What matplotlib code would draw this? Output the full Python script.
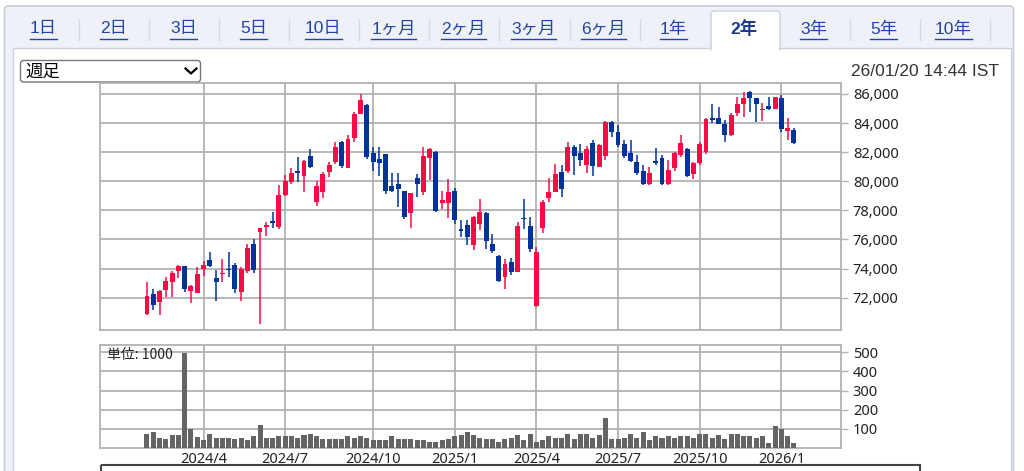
import matplotlib.pyplot as plt
from matplotlib.patches import Rectangle, FancyBboxPatch
import numpy as np
import pandas as pd

plt.rcParams['font.family'] = ['Noto Sans', 'Noto Sans CJK JP']

# weekly candles, first week starts 2024-01-29
opens = [70860, 72260, 71680, 72550, 73060, 73840, 74180, 72480, 72300, 73950,
         74590, 73330, 73630, 73970, 74250, 72420, 73840, 75670, 76540, 76880,
         77300, 76880, 79060, 79930, 80710, 80390, 81740, 78560, 79290, 80620,
         81300, 82720, 80940, 82950, 84630, 85240, 81920, 81530, 81850, 79700,
         79790, 79330, 77850, 80200, 79290, 81630, 81990, 78530, 78530, 79330,
         76700, 77000, 75620, 77040, 77850, 75670, 74890, 73400, 74480, 73790,
         77500, 76930, 71450, 76810, 78830, 79290, 80660, 80710, 82380, 81920,
         81120, 82610, 81010, 81740, 84050, 83410, 82540, 81920, 81300, 80730,
         79790, 81370, 81580, 79820, 80890, 81810, 82200, 80500, 81240, 82040,
         84330, 84330, 83920, 83180, 84670, 85310, 86160, 85700, 84900, 85200,
         84970, 85700, 83460, 83530]
highs = [73100, 72580, 72530, 73450, 73840, 74250, 74180, 72870, 74130, 74520,
         75160, 73900, 74640, 75120, 74360, 74130, 75670, 76040, 76810, 77230,
         77910, 79750, 80430, 80890, 81690, 81460, 82220, 80020, 80620, 81300,
         82680, 82770, 83180, 84740, 86000, 85310, 82380, 82380, 81850, 80590,
         80590, 79330, 79170, 80480, 82380, 82310, 82080, 79330, 80140, 79520,
         77340, 77340, 77620, 78780, 77910, 76380, 74940, 74660, 74750, 77180,
         78780, 77550, 75460, 78720, 80250, 81190, 81120, 82720, 82500, 82540,
         82450, 82840, 82540, 84170, 84150, 83870, 82840, 82840, 81810, 81120,
         81010, 82310, 81810, 81460, 82040, 83180, 82270, 81350, 82720, 84330,
         85310, 85130, 84210, 84670, 85820, 86120, 86210, 85750, 85360, 85770,
         85820, 85930, 84330, 83640]
lows = [70810, 71160, 70810, 72030, 72030, 73330, 72420, 71610, 72300, 73520,
        74130, 71770, 73100, 73450, 72300, 71770, 73680, 73680, 70200, 76260,
        76770, 76720, 78990, 79790, 79980, 79240, 80890, 78330, 78830, 80320,
        81190, 80940, 80890, 82680, 84600, 81530, 80710, 80390, 79110, 79240,
        78260, 77390, 76770, 78940, 79060, 80090, 77870, 78100, 77500, 77040,
        76200, 75620, 75280, 76650, 75350, 75050, 73100, 72600, 73560, 73740,
        76720, 75160, 71380, 76420, 78560, 79240, 78900, 80550, 80430, 81080,
        80550, 80390, 80960, 81460, 83070, 82380, 81630, 81350, 80430, 79750,
        79750, 81120, 79750, 79750, 80710, 81690, 80320, 80160, 81120, 81850,
        83980, 83920, 82680, 83110, 84510, 84440, 84740, 84100, 84170, 84900,
        84970, 83410, 82840, 82560]
closes = [72120, 71500, 72460, 73170, 73720, 74180, 72600, 72830, 73630, 74250,
          74180, 73060, 73720, 73880, 72600, 73950, 75390, 73900, 76770, 77000,
          77160, 79060, 80020, 80550, 80590, 81400, 80980, 79700, 80500, 81120,
          82380, 81080, 82910, 84630, 85590, 81690, 81350, 81280, 79330, 79330,
          79470, 77570, 79170, 79820, 81760, 82220, 77960, 78720, 79240, 77340,
          76590, 76200, 77550, 77910, 75900, 75210, 73150, 74320, 73740, 76930,
          77410, 75330, 75120, 78600, 79240, 80480, 79470, 82380, 81740, 81460,
          82200, 81050, 82500, 84050, 83410, 82500, 81760, 81400, 80550, 79790,
          80590, 81240, 79790, 80780, 81920, 82610, 80390, 81240, 82540, 84260,
          84210, 83940, 83180, 84560, 85310, 85750, 85750, 85290, 84970, 84970,
          85770, 83570, 83640, 82610]
# volume, unit: 1000 shares
volumes = [75, 82, 54, 47, 68, 68, 495, 100, 60, 42,
           75, 54, 54, 54, 47, 54, 42, 61, 121, 54,
           54, 61, 61, 61, 54, 68, 75, 61, 47, 47,
           47, 47, 61, 54, 61, 54, 42, 42, 42, 61,
           47, 47, 47, 42, 42, 33, 33, 42, 47, 61,
           68, 82, 68, 54, 47, 47, 33, 47, 54, 68,
           42, 75, 33, 40, 61, 54, 54, 74, 47, 74,
           74, 54, 68, 156, 47, 47, 54, 74, 54, 86,
           42, 61, 54, 61, 54, 61, 61, 54, 74, 74,
           54, 68, 47, 74, 74, 61, 61, 54, 61, 28,
           115, 98, 61, 28]

tabs = ["1日", "2日", "3日", "5日", "10日", "1ヶ月", "2ヶ月", "3ヶ月",
        "6ヶ月", "1年", "2年", "3年", "5年", "10年"]
active_tab = "2年"

dates = pd.date_range('2024-01-29', periods=len(opens), freq='W-MON')
x = np.arange(len(opens))
o, h, l, c = map(np.array, (opens, highs, lows, closes))

UP = '#fc0a45'
DOWN = '#00339a'
GRID = '#b2b2b2'

fig = plt.figure(figsize=(10.24, 4.71), dpi=100)

# page decoration in pixel coordinates
bg = fig.add_axes([0, 0, 1, 1])
bg.set_xlim(0, 1024)
bg.set_ylim(471, 0)
bg.axis('off')
bg.add_patch(FancyBboxPatch((4.5, 6), 1009, 500, boxstyle='round,pad=0,rounding_size=4',
                            fc='#eff1f8', ec='#c9cdd8', lw=1.2))
bg.add_patch(Rectangle((13, 48), 998, 460, fc='white', ec='#ccd0da', lw=1))
bg.add_patch(FancyBboxPatch((711, 11), 69, 40, boxstyle='round,pad=0,rounding_size=3',
                            fc='white', ec='#ccd0da', lw=1))
bg.add_patch(Rectangle((711.6, 46), 67.8, 6, fc='white', ec='none'))
for sx in [79, 149, 219, 289, 359, 429, 499, 570, 640, 850, 920, 990]:
    bg.plot([sx, sx], [19, 40], color='#d6d9e2', lw=1)

labels = []
for k, name in enumerate(tabs):
    cx = 43.5 + 70 * k
    if name == active_tab:
        bg.text(cx, 29, name, ha='center', va='center', fontsize=12.5,
                fontweight='bold', color='#1b3a8c',
                family=['Liberation Sans', 'Noto Sans CJK JP'])
    else:
        t = bg.text(cx, 29, name, ha='center', va='center', fontsize=12.5,
                    color='#2244a6', family=['Liberation Sans', 'Noto Sans CJK JP'])
        labels.append(t)

# dropdown and timestamp
bg.add_patch(FancyBboxPatch((20.5, 60.5), 180, 21.5, boxstyle='round,pad=0,rounding_size=3',
                            fc='white', ec='#767676', lw=1))
bg.text(25, 71.5, "週足", ha='left', va='center', fontsize=12.5, color='black',
        family=['Noto Sans CJK JP'])
bg.plot([185.5, 191, 196.5], [68.5, 73.5, 68.5], color='black', lw=1.6)
bg.text(999, 72, "26/01/20 14:44 IST", ha='right', va='center', fontsize=12.5,
        color='#333333', family=['Liberation Sans'])

# partly visible frame below the chart
bg.add_patch(Rectangle((100.5, 465), 819.5, 30, fc='none', ec='#444444', lw=1.5))

# price panel
ax = fig.add_axes([100 / 1024, 1 - 330 / 471, 741 / 1024, 246.7 / 471])
# volume panel
av = fig.add_axes([100 / 1024, 1 - 448 / 471, 741 / 1024, 103.3 / 471])

up = c >= o
colors = np.where(up, UP, DOWN)
ax.vlines(x, l, h, colors=colors, lw=1.1, zorder=3)
body_lo = np.minimum(o, c)
body_h = np.maximum(np.abs(c - o), 60)
ax.bar(x, body_h, bottom=body_lo, width=0.78, color=colors, zorder=4, linewidth=0)

av.bar(x, volumes, width=0.8, color='#646464', zorder=3, linewidth=0)

xlim = (-7.48, 110.5)
month_idx = [i for i in range(1, len(dates))
             if dates[i].month != dates[i - 1].month and dates[i].month in (1, 4, 7, 10)]
month_lab = [f"{dates[i].year}/{dates[i].month}" for i in month_idx]

for a in (ax, av):
    a.set_xlim(*xlim)
    a.set_axisbelow(True)
    for s in a.spines.values():
        s.set_color(GRID)
        s.set_linewidth(1.3)
    a.yaxis.tick_right()
    a.tick_params(axis='y', direction='out', length=5, width=1, color=GRID,
                  labelsize=10.5, labelcolor='#222222', pad=3.5)
    a.grid(True, color=GRID, lw=1.3)
    a.set_xticks(month_idx)

ax.set_ylim(69780, 86735)
ax.set_yticks(range(72000, 86001, 2000))
ax.set_yticklabels([f"{v:,}" for v in range(72000, 86001, 2000)])
ax.tick_params(axis='x', length=0, labelbottom=False)

av.set_ylim(0, 540)
av.set_yticks([100, 200, 300, 400, 500])
av.set_xticklabels(month_lab)
av.tick_params(axis='x', length=0, labelsize=10.5, labelcolor='#222222', pad=3)
av.text(0.01, 0.9, "単位: 1000", transform=av.transAxes, ha='left', va='center',
        fontsize=10, color='#222222', family=['Noto Sans CJK JP'], zorder=5)

# underline the link tabs
fig.canvas.draw()
r = fig.canvas.get_renderer()
inv = bg.transData.inverted()
for t in labels:
    bb = t.get_window_extent(r)
    (x0, _), (x1, _) = inv.transform([(bb.x0, bb.y0), (bb.x1, bb.y0)])
    bg.plot([x0, x1], [38.5, 38.5], color='#2244a6', lw=1)

fig.savefig('out.png', dpi=100)
